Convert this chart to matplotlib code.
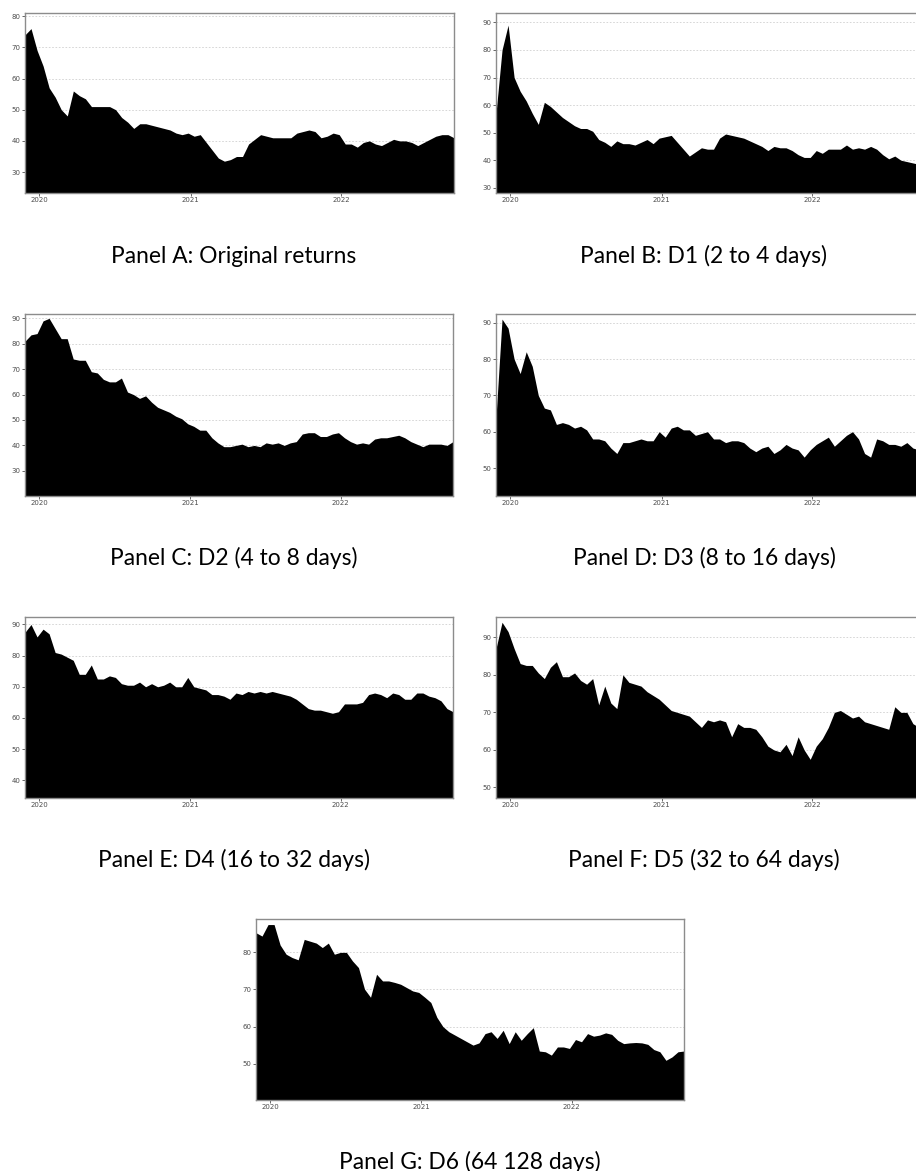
import numpy as np
import pandas as pd
import matplotlib
matplotlib.use("Agg")
import matplotlib.pyplot as plt
import matplotlib.dates as mdates

# sampling dates shared by all panels (roughly every two weeks)
dates = pd.date_range("2019-11-27", "2022-10-01", periods=72)

panel_a = [74, 76, 69, 64, 57, 54, 50, 48, 56, 54.5, 53.5, 51, 51, 51, 51, 50, 47.5, 46,
           44, 45.5, 45.5, 45, 44.5, 44, 43.5, 42.5, 42, 42.5, 41.5, 42, 39.5, 37, 34.5, 33.5,
           34, 35, 35, 39, 40.5, 42, 41.5, 41, 41, 41, 41, 42.5, 43, 43.5, 43, 41, 41.5, 42.5,
           42, 39, 39, 38, 39.5, 40, 39, 38.5, 39.5, 40.5, 40, 40, 39.5, 38.5, 39.5, 40.5,
           41.5, 42, 42, 41]
panel_b = [57, 80, 89, 70, 65, 61.5, 57, 53, 61, 59.5, 57.5, 55.5, 54, 52.5, 51.5, 51.5,
           50.5, 47.5, 46.5, 45, 47, 46, 46, 45.5, 46.5, 47.5, 46, 48, 48.5, 49, 46.5, 44,
           41.5, 43, 44.5, 44, 44, 48, 49.5, 49, 48.5, 48, 47, 46, 45, 43.5, 45, 44.5, 44.5,
           43.5, 42, 41, 41, 43.5, 42.5, 44, 44, 44, 45.5, 44, 44.5, 44, 45, 44, 42, 40.5,
           41.5, 40, 39.5, 39, 38.5, 38]
panel_c = [81, 83.5, 84, 89, 90, 86, 82, 82, 74, 73.5, 73.5, 69, 68.5, 66, 65, 65, 66.5, 61,
           60, 58.5, 59.5, 57, 55, 54, 53, 51.5, 50.5, 48.5, 47.5, 46, 46, 43, 41, 39.5, 39.5,
           40, 40.5, 39.5, 40, 39.5, 41, 40.5, 41, 40, 41, 41.5, 44.5, 45, 45, 43.5, 43.5,
           44.5, 45, 43, 41.5, 40.5, 41, 40.5, 42.5, 43, 43, 43.5, 44, 43, 41.5, 40.5, 39.5,
           40.5, 40.5, 40.5, 40, 41.5]
panel_d = [64, 91, 88.5, 80, 76, 82, 78, 70, 66.5, 66, 62, 62.5, 62, 61, 61.5, 60.5, 58, 58,
           57.5, 55.5, 54, 57, 57, 57.5, 58, 57.5, 57.5, 60, 58.5, 61, 61.5, 60.5, 60.5, 59,
           59.5, 60, 58, 58, 57, 57.5, 57.5, 57, 55.5, 54.5, 55.5, 56, 54, 55, 56.5, 55.5, 55,
           53, 55, 56.5, 57.5, 58.5, 56, 57.5, 59, 60, 58, 54, 53, 58, 57.5, 56.5, 56.5, 56,
           57, 55.5, 55, 54.5]
panel_e = [87.5, 90, 86, 88.5, 87, 81, 80.5, 79.5, 78.5, 74, 74, 77, 72.5, 72.5, 73.5, 73,
           71, 70.5, 70.5, 71.5, 70, 71, 70, 70.5, 71.5, 70, 70, 73, 70, 69.5, 69, 67.5, 67.5,
           67, 66, 68, 67.5, 68.5, 68, 68.5, 68, 68.5, 68, 67.5, 67, 66, 64.5, 63, 62.5, 62.5,
           62, 61.5, 62, 64.5, 64.5, 64.5, 65, 67.5, 68, 67.5, 66.5, 68, 67.5, 66, 66, 68, 68,
           67, 66.5, 65.5, 63, 62]
panel_f = [87, 94, 91.5, 87, 83, 82.5, 82.5, 80.5, 79, 82, 83.5, 79.5, 79.5, 80.5, 78.5,
           77.5, 79, 72, 77, 72.5, 71, 80, 78, 77.5, 77, 75.5, 74.5, 73.5, 72, 70.5, 70, 69.5,
           69, 67.5, 66, 68, 67.5, 68, 67.5, 63.5, 67, 66, 66, 65.5, 63.5, 61, 60, 59.5, 61.5,
           58.5, 63.5, 60, 57.5, 61, 63, 66, 70, 70.5, 69.5, 68.5, 69, 67.5, 67, 66.5, 66,
           65.5, 71.5, 70, 70, 67, 66, 65]
panel_g = [85.3, 84.4, 87.5, 87.5, 82, 79.5, 78.6, 78, 83.5, 83, 82.5, 81.3, 82.5, 79.5, 80,
           80, 77.7, 75.9, 70.1, 67.9, 74.1, 72.3, 72.3, 71.9, 71.4, 70.5, 69.6, 69.2, 67.9,
           66.5, 62.5, 60, 58.6, 57.7, 56.8, 55.9, 55, 55.6, 58.1, 58.6, 56.8, 59, 55.4, 58.6,
           56.3, 58.1, 59.7, 53.4, 53.2, 52.3, 54.5, 54.5, 54.1, 56.5, 55.9, 58.1, 57.4, 57.7,
           58.3, 57.9, 56.3, 55.4, 55.6, 55.7, 55.6, 55.2, 53.8, 53.2, 50.9, 51.8, 53.2, 53.4]

captions = ["Panel A: Original returns", "Panel B: D1 (2 to 4 days)",
            "Panel C: D2 (4 to 8 days)", "Panel D: D3 (8 to 16 days)",
            "Panel E: D4 (16 to 32 days)", "Panel F: D5 (32 to 64 days)",
            "Panel G: D6 (64 128 days)"]
series = [panel_a, panel_b, panel_c, panel_d, panel_e, panel_f, panel_g]
ylims = [(23.3, 81), (28.1, 93.4), (20.1, 91.7), (42.3, 92.4),
         (34.3, 92.4), (47.2, 95.4), (40.2, 89)]

W, H = 916, 1171
# axes boxes in pixels: left, top, right, bottom (right column runs off the page)
boxes = [(25, 13, 454, 193), (496, 13, 925, 193),
         (25, 314, 453, 496), (496, 314, 925, 496),
         (25, 617, 453, 798), (496, 617, 925, 798),
         (256, 919, 684, 1100)]
# caption centre x and baseline y in pixels
cap_pos = [(234, 263), (704, 263), (234, 565), (704, 565),
           (234, 867), (704, 867), (470, 1169)]

fig = plt.figure(figsize=(W / 100, H / 100), dpi=100)

for vals, (y0, y1), (l, t, r, b), (cx, cy), cap in zip(series, ylims, boxes, cap_pos, captions):
    ax = fig.add_axes([l / W, 1 - b / H, (r - l) / W, (b - t) / H])
    ax.fill_between(dates, vals, 0, color="black", linewidth=0, zorder=2)
    ax.set_xlim(dates[0], dates[-1])
    ax.set_ylim(y0, y1)
    ax.yaxis.set_major_locator(plt.MultipleLocator(10))
    ax.xaxis.set_major_locator(mdates.YearLocator())
    ax.xaxis.set_major_formatter(mdates.DateFormatter("%Y"))
    ax.yaxis.grid(True, color="#d0d0d0", linestyle=(0, (2, 2)), linewidth=0.6, zorder=0)
    ax.set_axisbelow(True)
    ax.tick_params(labelsize=5, colors="#4d4d4d", length=2.2, width=0.6, pad=1)
    for s in ax.spines.values():
        s.set_color("#8c8c8c")
        s.set_linewidth(1.0)
        s.set_zorder(3)
    fig.text(cx / W, 1 - cy / H, cap, ha="center", va="baseline",
             fontsize=16.4, family="Lato", color="black")

fig.savefig("out.png", dpi=100)
